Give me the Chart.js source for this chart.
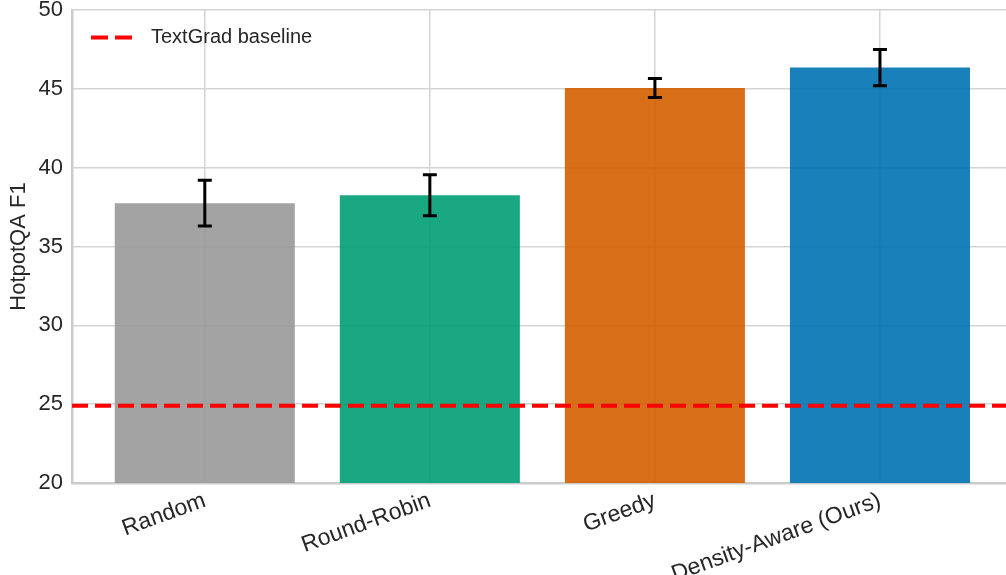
<!DOCTYPE html>
<html>
<head>
<meta charset="utf-8">
<script src="https://cdn.jsdelivr.net/npm/chart.js@4"></script>
<style>
  html, body { margin: 0; padding: 0; background: #ffffff; }
  #wrap { width: 1006px; height: 575px; position: relative; }
</style>
</head>
<body>
<div id="wrap"><canvas id="c"></canvas></div>
<script>
// ---- data ----
const categories = ["Random", "Round-Robin", "Greedy", "Density-Aware (Ours)"];
const meanF1 = [37.75, 38.25, 45.05, 46.35];
const errF1 = [1.45, 1.3, 0.6, 1.15];
const baselineF1 = 24.9;
const baselineLabel = "TextGrad baseline";
const yTicks = [20, 25, 30, 35, 40, 45, 50];
const barColors = ["rgba(153,153,153,0.9)", "rgba(0,158,115,0.9)", "rgba(213,94,0,0.9)", "rgba(0,114,178,0.9)"];

const X_MIN = -0.59, X_MAX = 3.56;
const FONT = "'Liberation Sans', Arial, sans-serif";
const TXT = "#262626";

const errorBarPlugin = {
  id: 'errorBars',
  afterDatasetsDraw(chart) {
    const {ctx, scales: {x, y}} = chart;
    ctx.save();
    ctx.strokeStyle = '#000000';
    ctx.lineWidth = 3;
    ctx.lineCap = 'butt';
    meanF1.forEach((m, i) => {
      const px = x.getPixelForValue(i);
      const top = y.getPixelForValue(m + errF1[i]);
      const bot = y.getPixelForValue(m - errF1[i]);
      ctx.beginPath();
      ctx.moveTo(px, top); ctx.lineTo(px, bot);
      ctx.moveTo(px - 7, top); ctx.lineTo(px + 7, top);
      ctx.moveTo(px - 7, bot); ctx.lineTo(px + 7, bot);
      ctx.stroke();
    });
    ctx.restore();
  }
};

new Chart(document.getElementById('c'), {
  type: 'bar',
  data: {
    datasets: [
      {
        type: 'line',
        label: baselineLabel,
        data: [{x: X_MIN, y: baselineF1}, {x: X_MAX, y: baselineF1}],
        borderColor: '#ff0000',
        borderWidth: 4,
        borderDash: [16, 7],
        pointRadius: 0,
        fill: false,
        order: 0
      },
      {
        label: 'F1',
        data: categories.map((c, i) => ({x: i, y: meanF1[i]})),
        backgroundColor: barColors,
        borderWidth: 0,
        categoryPercentage: 1.0,
        barPercentage: 0.8,
        order: 1
      }
    ]
  },
  options: {
    responsive: true,
    maintainAspectRatio: false,
    animation: false,
    layout: { padding: { top: 10, left: 0, right: 0, bottom: 0 } },
    plugins: {
      tooltip: { enabled: false },
      legend: {
        position: 'chartArea',
        align: 'start',
        title: { display: true, text: '', font: { size: 2 }, padding: 3 },
        labels: {
          usePointStyle: true,
          pointStyle: 'line',
          pointStyleWidth: 50,
          boxHeight: 20,
          padding: 19,
          color: TXT,
          font: { family: FONT, size: 20 },
          generateLabels: (chart) => [{
            text: baselineLabel,
            strokeStyle: '#ff0000',
            fillStyle: '#ff0000',
            fontColor: TXT,
            lineWidth: 4,
            lineDash: [17, 7, 17, 200],
            lineCap: 'butt',
            pointStyle: 'line',
            datasetIndex: 0,
            hidden: false
          }]
        }
      }
    },
    scales: {
      x: {
        type: 'linear',
        min: X_MIN,
        max: X_MAX,
        offset: false,
        afterBuildTicks: (s) => { s.ticks = categories.map((c, i) => ({value: i})); },
        afterFit: (s) => { s.height = 92; s.paddingLeft = 0; s.paddingRight = 0; },
        ticks: {
          callback: (v) => categories[v] ?? '',
          minRotation: 20,
          maxRotation: 20,
          autoSkip: false,
          padding: 4,
          color: TXT,
          font: { family: FONT, size: 23 }
        },
        grid: { color: '#d4d4d4', lineWidth: 1.5, drawTicks: false, offset: false },
        border: { display: true, color: '#cccccc', width: 2.5 }
      },
      y: {
        min: 20,
        max: 50,
        afterBuildTicks: (s) => { s.ticks = yTicks.map(v => ({value: v})); },
        afterFit: (s) => { s.width = 72; s.paddingTop = 0; s.paddingBottom = 0; },
        ticks: {
          padding: 9,
          color: TXT,
          font: { family: FONT, size: 22 }
        },
        grid: { color: '#d4d4d4', lineWidth: 1.5, drawTicks: false },
        border: { display: true, color: '#cccccc', width: 2.5 },
        title: {
          display: true,
          text: 'HotpotQA F1',
          color: TXT,
          font: { family: FONT, size: 22 },
          padding: { top: 6, bottom: 0 }
        }
      }
    }
  },
  plugins: [errorBarPlugin]
});
</script>
</body>
</html>
